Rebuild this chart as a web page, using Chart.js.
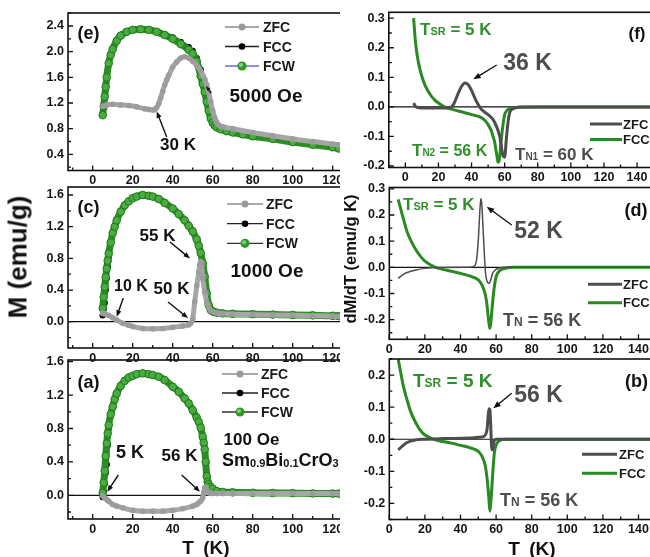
<!DOCTYPE html>
<html><head><meta charset="utf-8">
<script src="https://cdn.jsdelivr.net/npm/chart.js@4.4.1/dist/chart.umd.min.js"></script>
<style>
html,body{margin:0;padding:0;background:#fff;}
body{width:650px;height:557px;overflow:hidden;position:relative;font-family:"Liberation Sans",Arial,sans-serif;}
#left{position:absolute;left:0;top:0;width:340px;height:557px;overflow:hidden;}
#right{position:absolute;left:0;top:0;width:650px;height:557px;overflow:hidden;}
canvas{position:absolute;left:0;top:0;}
.ttl{position:absolute;font-weight:bold;color:#111;white-space:nowrap;z-index:5;font-family:"Liberation Sans",Arial,sans-serif;}
</style></head><body>
<div id="right"></div>
<div id="left"></div>
<div class="ttl" style="left:18px;top:257px;font-size:26px;transform:translate(-50%,-50%) rotate(-90deg)">M (emu/g)</div>
<div class="ttl" style="left:350px;top:259px;font-size:16.5px;transform:translate(-50%,-50%) rotate(-90deg)">dM/dT (emu/g K)</div>
<div class="ttl" style="left:206px;top:548px;font-size:19px;word-spacing:4px;transform:translate(-50%,-50%)">T (K)</div>
<div class="ttl" style="left:532px;top:549px;font-size:19px;word-spacing:4px;transform:translate(-50%,-50%)">T (K)</div>
<script>
// ---------- tick labels ----------
const X_TICKS_M = [0, 20, 40, 60, 80, 100, 120];
const X_TICKS_D = [0, 20, 40, 60, 80, 100, 120, 140];
const Y_TICKS_E = [0.4, 0.8, 1.2, 1.6, 2.0, 2.4];
const Y_TICKS_C = [0.0, 0.4, 0.8, 1.2, 1.6];
const Y_TICKS_A = [0.0, 0.4, 0.8, 1.2, 1.6];
const Y_TICKS_F = [-0.2, -0.1, 0.0, 0.1, 0.2, 0.3];
const Y_TICKS_D = [-0.2, -0.1, 0.0, 0.1, 0.2, 0.3];
const Y_TICKS_B = [-0.2, -0.1, 0.0, 0.1, 0.2];

// ---------- (e) 5000 Oe ----------
const T_E_FC = [5,5.5,6,6.5,7,8,9,10,12,14,17,20,24,28,32,36,40,44,48,50,52,54,55,56,57,58,59,60,61,62,64,67,70,75,80,90,100,110,120,123];
const M_E_FCW = [1.01,1.15,1.3,1.45,1.6,1.82,1.95,2.04,2.17,2.25,2.31,2.34,2.35,2.34,2.31,2.26,2.2,2.12,2.03,1.97,1.85,1.62,1.5,1.37,1.22,1.08,0.96,0.89,0.85,0.82,0.79,0.76,0.74,0.71,0.68,0.64,0.59,0.55,0.51,0.49];
const M_E_FCC = [1.02,1.16,1.31,1.46,1.6,1.82,1.95,2.04,2.17,2.25,2.31,2.34,2.35,2.34,2.31,2.27,2.22,2.15,2.07,2.01,1.9,1.72,1.61,1.5,1.4,1.28,1.1,0.96,0.88,0.83,0.79,0.76,0.74,0.71,0.68,0.64,0.59,0.55,0.51,0.49];
const T_E_ZFC = [5,7,10,14,18,22,26,28,30,31,32,33,34,35,36,37,38,40,42,44,46,48,50,52,54,56,57,58,59,60,61,62,63,65,70,80,90,100,110,120,123];
const M_E_ZFC = [1.15,1.17,1.18,1.17,1.16,1.14,1.11,1.1,1.09,1.1,1.13,1.19,1.28,1.38,1.48,1.56,1.63,1.76,1.84,1.9,1.92,1.9,1.85,1.79,1.7,1.57,1.48,1.37,1.22,1.08,0.97,0.9,0.86,0.83,0.8,0.74,0.69,0.64,0.6,0.56,0.55];

// ---------- (c) 1000 Oe ----------
const T_C_FC = [5,5.5,6,6.5,7,7.5,8,9,10,11,12,14,16,18,20,22,25,28,30,33,36,40,43,46,48,50,52,53,54,55,56,57,58,59,60,62,65,70,80,90,100,110,120,123];
const M_C_FCW = [0.17,0.31,0.44,0.56,0.67,0.77,0.86,1.0,1.12,1.2,1.28,1.39,1.47,1.52,1.56,1.58,1.6,1.59,1.58,1.55,1.5,1.43,1.36,1.28,1.21,1.14,1.04,0.96,0.87,0.74,0.57,0.36,0.21,0.15,0.13,0.115,0.105,0.1,0.095,0.09,0.085,0.08,0.075,0.07];
const M_C_FCC = [0.08,0.16,0.24,0.4,0.55,0.7,0.82,0.98,1.11,1.2,1.28,1.39,1.47,1.52,1.56,1.58,1.6,1.59,1.58,1.55,1.5,1.43,1.36,1.28,1.21,1.14,1.04,0.96,0.87,0.74,0.57,0.38,0.2,0.14,0.12,0.11,0.1,0.095,0.09,0.085,0.08,0.075,0.07,0.065];
const T_C_ZFC = [5,6,8,10,12,15,18,20,25,30,35,40,45,48,49,50,51,52,53,53.5,54,54.5,55,56,57,58,59,60,62,65,70,80,90,100,110,120,123];
const M_C_ZFC = [0.105,0.1,0.08,0.05,0.02,-0.02,-0.045,-0.06,-0.085,-0.09,-0.085,-0.07,-0.055,-0.04,-0.02,0.03,0.25,0.45,0.62,0.72,0.76,0.7,0.55,0.38,0.25,0.18,0.14,0.125,0.11,0.1,0.095,0.09,0.085,0.08,0.075,0.07,0.065];

// ---------- (a) 100 Oe ----------
const T_A_FC = [5,5.5,6,6.5,7,7.5,8,9,10,11,12,14,16,18,20,22,25,28,30,33,36,40,43,46,48,50,52,53,54,55,55.5,56,56.5,57,57.5,58,59,60,62,65,70,80,90,100,110,120,123];
const M_A_FCW = [0.03,0.15,0.29,0.47,0.62,0.74,0.84,0.97,1.06,1.15,1.22,1.31,1.37,1.41,1.43,1.45,1.46,1.45,1.44,1.42,1.38,1.3,1.24,1.16,1.1,1.02,0.93,0.88,0.81,0.7,0.63,0.55,0.4,0.23,0.16,0.13,0.1,0.08,0.05,0.04,0.035,0.03,0.028,0.025,0.022,0.02,0.02];
const M_A_FCC = [-0.02,0.05,0.14,0.27,0.37,0.6,0.8,0.95,1.06,1.15,1.22,1.31,1.37,1.41,1.43,1.45,1.46,1.45,1.44,1.42,1.38,1.3,1.24,1.16,1.1,1.02,0.93,0.88,0.81,0.7,0.63,0.55,0.42,0.25,0.16,0.12,0.09,0.07,0.045,0.035,0.03,0.028,0.025,0.022,0.02,0.018,0.018];
const T_A_ZFC = [5,6,7,8,10,12,15,20,25,30,35,40,45,50,52,53,54,55,55.5,56,56.5,57,58,59,60,62,65,70,80,90,100,110,120,123];
const M_A_ZFC = [-0.01,-0.03,-0.05,-0.07,-0.11,-0.13,-0.15,-0.18,-0.19,-0.19,-0.19,-0.18,-0.16,-0.13,-0.11,-0.09,-0.07,-0.03,0.03,0.09,0.1,0.06,0.03,0.025,0.02,0.02,0.02,0.02,0.02,0.02,0.02,0.02,0.02,0.02];

// ---------- (f) dM/dT 5000 Oe ----------
const T_F_FCC = [5,6,7,8,9,10,12,15,18,20,23,25,30,35,40,45,48,50,52,53,54,55,55.5,56,56.5,57,58,59,60,61,62,65,70,80,100,120,150];
const V_F_FCC = [0.3,0.227,0.18,0.148,0.123,0.103,0.072,0.042,0.022,0.013,0.002,-0.003,-0.011,-0.018,-0.026,-0.034,-0.045,-0.06,-0.082,-0.1,-0.12,-0.155,-0.172,-0.187,-0.185,-0.167,-0.11,-0.06,-0.026,-0.015,-0.009,-0.003,-0.001,0,0,0,0];
const T_F_ZFC = [5,6,8,12,15,20,25,28,30,32,34,36,38,40,42,44,46,48,50,53,55,57,58,59,60,61,62,63,65,70,80,100,120,150];
const V_F_ZFC = [0.013,0.002,-0.003,-0.004,-0.004,-0.004,-0.004,0,0.019,0.047,0.07,0.081,0.075,0.056,0.03,0.008,-0.009,-0.018,-0.026,-0.043,-0.065,-0.099,-0.133,-0.166,-0.17,-0.11,-0.054,-0.02,-0.006,0,0,0,0,0];

// ---------- (d) dM/dT 1000 Oe ----------
const T_D_FCC = [5,6,8,10,12,15,18,20,25,30,35,40,45,50,52,53,54,55,55.5,56,56.5,57,58,59,60,62,65,70,80,100,120,150];
const V_D_FCC = [0.26,0.234,0.183,0.136,0.104,0.066,0.038,0.024,0.003,-0.008,-0.015,-0.023,-0.033,-0.048,-0.067,-0.083,-0.106,-0.15,-0.185,-0.214,-0.233,-0.214,-0.137,-0.074,-0.036,-0.013,-0.004,0,0,0,0,0];
const T_D_ZFC = [5,8,10,15,20,30,45,48,49,50,51,51.5,52,53,54,55,56,57,58,60,65,70,100,150];
const V_D_ZFC = [-0.042,-0.027,-0.02,-0.01,-0.004,-0.001,0,0.006,0.028,0.104,0.23,0.263,0.238,0.104,-0.017,-0.055,-0.061,-0.048,-0.023,-0.008,0,0,0,0];

// ---------- (b) dM/dT 100 Oe ----------
const T_B_FCC = [5,6,7,8,10,12,15,18,20,25,30,35,40,45,50,52,53,54,55,55.5,56,56.5,57,57.5,58,59,60,62,65,70,100,150];
const V_B_FCC = [0.25,0.22,0.19,0.163,0.122,0.086,0.05,0.024,0.013,0,-0.007,-0.012,-0.019,-0.026,-0.038,-0.052,-0.065,-0.085,-0.126,-0.155,-0.188,-0.224,-0.198,-0.16,-0.116,-0.043,-0.018,-0.004,0,0,0,0];
const T_B_ZFC = [5,7,10,15,20,30,45,50,53,54.5,55,55.5,56,56.5,57,57.5,58,58.5,59,60,70,100,150];
const V_B_ZFC = [-0.033,-0.023,-0.01,-0.002,0,0.002,0.004,0.006,0.008,0.02,0.034,0.07,0.095,0.093,0.04,-0.025,-0.033,-0.015,-0.004,0,0,0,0];

// ---------- styling ----------
const GREEN = '#2a8a22';
const GTXT = '#2f8f2a';
const DGRAY = '#4d4d4d';
const FONT = '"Liberation Sans", Arial, sans-serif';
const CH = 557;

function pts(T, V) { return T.map((t, i) => ({x: t, y: V[i]})); }

function rich(ctx, x, yc, segs, color, align) {
  const main = segs[0][1];
  let w = 0;
  segs.forEach(s => { ctx.font = 'bold ' + s[1] + 'px ' + FONT; w += ctx.measureText(s[0]).width; });
  let cx = align === 'center' ? x - w / 2 : x;
  const base = yc + main * 0.36;
  ctx.fillStyle = color; ctx.textBaseline = 'alphabetic'; ctx.textAlign = 'left';
  segs.forEach(s => {
    ctx.font = 'bold ' + s[1] + 'px ' + FONT;
    ctx.fillText(s[0], cx, base + (s[2] || 0));
    cx += ctx.measureText(s[0]).width;
  });
}
function arrow(ctx, x1, y1, x2, y2, color, h) {
  h = h || 7;
  const a = Math.atan2(y2 - y1, x2 - x1);
  ctx.strokeStyle = color; ctx.fillStyle = color; ctx.lineWidth = 1.4;
  ctx.beginPath(); ctx.moveTo(x1, y1); ctx.lineTo(x2 - Math.cos(a) * h * 0.7, y2 - Math.sin(a) * h * 0.7); ctx.stroke();
  ctx.beginPath(); ctx.moveTo(x2, y2);
  ctx.lineTo(x2 - h * Math.cos(a - 0.38), y2 - h * Math.sin(a - 0.38));
  ctx.lineTo(x2 - h * Math.cos(a + 0.38), y2 - h * Math.sin(a + 0.38));
  ctx.closePath(); ctx.fill();
}

const decor = {
  id: 'decor',
  beforeDatasetsDraw(chart, args, o) {
    if (!o || !o.zero) return;
    const ctx = chart.ctx, a = chart.chartArea;
    const y = chart.scales.y.getPixelForValue(0);
    ctx.save(); ctx.strokeStyle = '#111'; ctx.lineWidth = 1.2;
    ctx.beginPath(); ctx.moveTo(a.left, y); ctx.lineTo(a.right, y); ctx.stroke(); ctx.restore();
  },
  afterDraw(chart, args, o) {
    if (!o || !o.minorX) return;
    const ctx = chart.ctx, a = chart.chartArea, xs = chart.scales.x, ys = chart.scales.y;
    ctx.save();
    ctx.strokeStyle = '#111'; ctx.lineWidth = 1.6;
    ctx.strokeRect(a.left, a.top, a.right - a.left, a.bottom - a.top);
    ctx.lineWidth = 1.3;
    ctx.beginPath();
    const kx0 = Math.ceil(xs.min / o.minorX - 1e-6), kx1 = Math.floor(xs.max / o.minorX + 1e-6);
    for (let k = kx0; k <= kx1; k++) {
      const v = k * o.minorX, px = xs.getPixelForValue(v);
      const major = Math.abs(v / (2 * o.minorX) - Math.round(v / (2 * o.minorX))) < 1e-6;
      ctx.moveTo(px, a.bottom); ctx.lineTo(px, a.bottom - (major ? 5 : 3));
    }
    const ky0 = Math.ceil(ys.min / o.minorY - 1e-6), ky1 = Math.floor(ys.max / o.minorY + 1e-6);
    for (let k = ky0; k <= ky1; k++) {
      const v = k * o.minorY, py = ys.getPixelForValue(v);
      const major = k % 2 === 0;
      ctx.moveTo(a.left, py); ctx.lineTo(a.left + (major ? 5 : 3), py);
    }
    ctx.stroke();
    (o.legend || []).forEach(l => {
      ctx.strokeStyle = l.color; ctx.lineWidth = l.lw;
      ctx.beginPath(); ctx.moveTo(l.x1, l.y); ctx.lineTo(l.x2, l.y); ctx.stroke();
      if (l.r) {
        ctx.beginPath(); ctx.arc((l.x1 + l.x2) / 2, l.y, l.r, 0, Math.PI * 2);
        ctx.fillStyle = l.fill; ctx.fill();
        if (l.hl) { ctx.beginPath(); ctx.arc((l.x1 + l.x2) / 2 - 1, l.y - 1, l.r * 0.45, 0, Math.PI * 2); ctx.fillStyle = l.hl; ctx.fill(); }
      }
      rich(ctx, l.tx, l.y, [[l.label, l.fs]], l.tc || '#1a1a1a', 'left');
    });
    (o.texts || []).forEach(t => rich(ctx, t.x, t.y, t.segs, t.c, t.align));
    (o.arrows || []).forEach(r => arrow(ctx, r[0], r[1], r[2], r[3], '#111', r[4]));
    ctx.restore();
  }
};
Chart.register(decor);

function makePanel(parentId, cw, area, xr, yr, xt, yt, datasets, deco) {
  const parent = document.getElementById(parentId);
  const cv = document.createElement('canvas');
  cv.width = cw; cv.height = CH; cv.style.width = cw + 'px'; cv.style.height = CH + 'px';
  parent.appendChild(cv);
  const tickFont = {family: FONT, size: 12.5, weight: 'bold'};
  new Chart(cv.getContext('2d'), {
    type: 'line',
    data: {datasets: datasets},
    options: {
      responsive: false, animation: false, devicePixelRatio: 1,
      layout: {padding: {left: 0, top: area.top, right: cw - area.right, bottom: 0}},
      plugins: {legend: {display: false}, tooltip: {enabled: false}, decor: deco},
      elements: {line: {cubicInterpolationMode: 'monotone'}},
      scales: {
        x: {
          type: 'linear', min: xr[0], max: xr[1],
          afterBuildTicks: s => { s.ticks = xt.map(v => ({value: v})); },
          afterFit: s => { s.height = CH - area.bottom; },
          grid: {display: false, drawTicks: false, tickLength: 0},
          border: {display: false},
          ticks: {font: tickFont, color: '#151515', padding: 3, maxRotation: 0, autoSkip: false, callback: v => String(v)}
        },
        y: {
          type: 'linear', min: yr[0], max: yr[1],
          afterBuildTicks: s => { s.ticks = yt.map(v => ({value: v})); },
          afterFit: s => { s.width = area.left; },
          grid: {display: false, drawTicks: false, tickLength: 0},
          border: {display: false},
          ticks: {font: tickFont, color: '#151515', padding: 4, autoSkip: false, callback: v => Number(v).toFixed(1)}
        }
      }
    }
  });
}

function leftSets(T, fcw, fcc, Tz, zfc) {
  return [
    {data: pts(Tz, zfc), borderColor: '#a6a6a6', borderWidth: 5, pointRadius: 2.8, pointBackgroundColor: '#9c9c9c', pointBorderWidth: 0, order: 0},
    {data: pts(T, fcw), borderColor: '#2d8d25', borderWidth: 7, pointRadius: 3.8, pointBackgroundColor: '#4aab42', pointBorderColor: '#1f7a18', pointBorderWidth: 1, order: 1},
    {data: pts(T, fcc), borderColor: '#111', borderWidth: 4, pointRadius: 3.2, pointBackgroundColor: '#000', pointBorderWidth: 0, order: 2}
  ];
}
function rightSets(Tf, vf, Tz, vz, zw) {
  return [
    {data: pts(Tz, vz), borderColor: DGRAY, borderWidth: zw, pointRadius: 0, order: 0},
    {data: pts(Tf, vf), borderColor: GREEN, borderWidth: 3, pointRadius: 0, order: 1}
  ];
}
function leftLegend(x1, x2, ys, tx, fcwLine) {
  return [
    {x1, x2, y: ys[0], color: '#8c8c8c', lw: 1.3, r: 3.5, fill: '#9a9a9a', label: 'ZFC', tx, fs: 14},
    {x1, x2, y: ys[1], color: '#222', lw: 1.3, r: 3.3, fill: '#000', label: 'FCC', tx, fs: 14},
    {x1, x2, y: ys[2], color: fcwLine, lw: 1.3, r: 4.6, fill: '#2f9a2a', hl: '#7fd07a', label: 'FCW', tx, fs: 14}
  ];
}
function rightLegend(x1, x2, ys, tx) {
  return [
    {x1, x2, y: ys[0], color: DGRAY, lw: 3, label: 'ZFC', tx, fs: 13},
    {x1, x2, y: ys[1], color: GREEN, lw: 3, label: 'FCC', tx, fs: 13}
  ];
}
const C = (x, y, t, s, c) => ({x, y, segs: [[t, s]], c: c || '#111', align: 'center'});

// ---------- left column ----------
const LW = 362;
makePanel('left', LW, {left: 68, top: 13, right: 342.7, bottom: 170.5}, [-12.35, 125], [0.1475, 2.603], X_TICKS_M, Y_TICKS_E,
  leftSets(T_E_FC, M_E_FCW, M_E_FCC, T_E_ZFC, M_E_ZFC),
  {minorX: 10, minorY: 0.2, zero: false,
   legend: leftLegend(225, 259, [27, 46.5, 66], 263, '#6a6ae0'),
   texts: [C(88.5, 33, '(e)', 18), C(266, 95, '5000 Oe', 19), C(178, 144, '30 K', 17)],
   arrows: [[166.7, 137, 156.7, 111.5, 7], [211, 93, 206, 86, 5]]});

makePanel('left', LW, {left: 68, top: 187, right: 342.7, bottom: 348}, [-12.35, 125], [-0.332, 1.701], X_TICKS_M, Y_TICKS_C,
  leftSets(T_C_FC, M_C_FCW, M_C_FCC, T_C_ZFC, M_C_ZFC),
  {minorX: 10, minorY: 0.2, zero: true,
   legend: leftLegend(227, 263, [204, 223.7, 243.3], 266, '#333'),
   texts: [C(88.5, 207, '(c)', 18), C(157.5, 234.5, '55 K', 17), C(267, 270.5, '1000 Oe', 19), C(131, 285.5, '10 K', 16), C(171.5, 287.5, '50 K', 17)],
   arrows: [[170, 242, 190, 258.5, 7], [123.3, 298, 116.7, 316.7, 7], [168, 302, 188, 318, 7]]});

makePanel('left', LW, {left: 68, top: 360, right: 342.7, bottom: 519}, [-12.35, 125], [-0.284, 1.62], X_TICKS_M, Y_TICKS_A,
  leftSets(T_A_FC, M_A_FCW, M_A_FCC, T_A_ZFC, M_A_ZFC),
  {minorX: 10, minorY: 0.2, zero: true,
   legend: leftLegend(222, 258, [374, 393, 412], 261, '#333'),
   texts: [C(88.5, 381.5, '(a)', 18), C(130, 451.5, '5 K', 18), C(179.5, 455, '56 K', 17), C(251.5, 438.5, '100 Oe', 17),
     {x: 222, y: 460, segs: [['Sm', 18], ['0.9', 11, 1], ['Bi', 18], ['0.1', 11, 1], ['CrO', 18], ['3', 11, 1]], c: '#111', align: 'left'}],
   arrows: [[118.3, 475, 107.3, 491.7, 7], [181.7, 475, 200, 491.7, 7]]});

// ---------- right column ----------
const RW = 690;
makePanel('right', RW, {left: 388.8, top: 12.3, right: 653.6, bottom: 167.5}, [-10, 150], [-0.205, 0.32], X_TICKS_D, Y_TICKS_F,
  rightSets(T_F_FCC, V_F_FCC, T_F_ZFC, V_F_ZFC, 3),
  {minorX: 10, minorY: 0.05, zero: true,
   legend: rightLegend(590, 622, [124, 139.5], 623),
   texts: [
     {x: 420, y: 28.5, segs: [['T', 17], ['SR', 11, 0], [' = 5 K', 17]], c: GTXT, align: 'left'},
     C(527.5, 61.5, '36 K', 23, DGRAY), C(637, 33, '(f)', 17),
     {x: 412, y: 150, segs: [['T', 17], ['N2', 10, 0], [' = 56 K', 16]], c: GTXT, align: 'left'},
     {x: 515, y: 153.5, segs: [['T', 17], ['N1', 10, 0], [' = 60 K', 17]], c: DGRAY, align: 'left'}],
   arrows: [[496.7, 65, 473.3, 79.3, 8]]});

makePanel('right', RW, {left: 389.3, top: 187.5, right: 656.3, bottom: 339.3}, [0, 150], [-0.275, 0.305], X_TICKS_D, Y_TICKS_D,
  rightSets(T_D_FCC, V_D_FCC, T_D_ZFC, V_D_ZFC, 1.5),
  {minorX: 10, minorY: 0.05, zero: true,
   legend: rightLegend(588, 622, [284.3, 302.7], 623),
   texts: [
     {x: 403, y: 203.5, segs: [['T', 17], ['SR', 11, 0], [' = 5 K', 17]], c: GTXT, align: 'left'},
     C(538.5, 230, '52 K', 23, DGRAY), C(636, 210, '(d)', 18),
     {x: 503, y: 320, segs: [['T', 18], ['N', 12, 0], [' = 56 K', 18]], c: DGRAY, align: 'left'}],
   arrows: [[511.7, 225, 486.7, 206.7, 8]]});

makePanel('right', RW, {left: 389.3, top: 359, right: 656.3, bottom: 519.5}, [0, 150], [-0.25, 0.25], X_TICKS_D, Y_TICKS_B,
  rightSets(T_B_FCC, V_B_FCC, T_B_ZFC, V_B_ZFC, 3),
  {minorX: 10, minorY: 0.05, zero: true,
   legend: rightLegend(582, 617, [454.3, 473.3], 619),
   texts: [
     {x: 413, y: 380, segs: [['T', 19], ['SR', 12, 0], [' = 5 K', 19]], c: GTXT, align: 'left'},
     C(538.5, 394, '56 K', 23, DGRAY), C(636.5, 381, '(b)', 18),
     {x: 500, y: 500, segs: [['T', 18], ['N', 12, 0], [' = 56 K', 18]], c: DGRAY, align: 'left'}],
   arrows: [[511.7, 393.3, 493.3, 408.3, 8]]});
</script>
</body></html>
